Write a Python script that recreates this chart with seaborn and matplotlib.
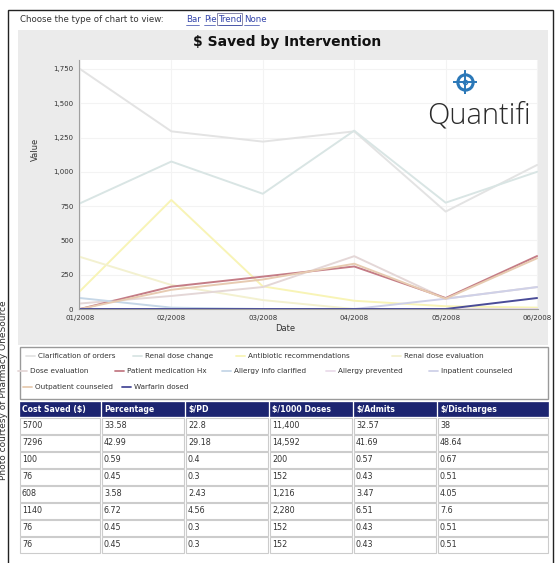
import pandas as pd
import matplotlib
matplotlib.use("Agg")
import matplotlib.pyplot as plt
import matplotlib.patches as mpatches
import seaborn as sns

W, H = 555, 563

months = ['01/2008', '02/2008', '03/2008', '04/2008', '05/2008', '06/2008']

# one list per intervention
clarification_orders = [1750, 1295, 1220, 1295, 710, 1050]
renal_dose_change = [770, 1075, 840, 1300, 775, 1000]
antibiotic_recs = [130, 795, 165, 60, 20, 10]
renal_dose_eval = [380, 175, 65, 0, 0, 0]
dose_eval = [40, 95, 160, 385, 75, 160]
patient_med_hx = [0, 163, 236, 310, 80, 386]
allergy_info = [80, 10, 0, 0, 0, 0]
allergy_prevented = [0, 0, 0, 0, 0, 0]
inpatient_counseled = [0, 0, 0, 0, 75, 160]
outpatient_counseled = [0, 140, 215, 330, 75, 370]
warfarin_dosed = [0, 0, 0, 0, 0, 80]

names = ['Clarification of orders', 'Renal dose change', 'Antibiotic recommendations',
         'Renal dose evaluation', 'Dose evaluation', 'Patient medication Hx',
         'Allergy info clarified', 'Allergy prevented', 'Inpatient counseled',
         'Outpatient counseled', 'Warfarin dosed']
values = [clarification_orders, renal_dose_change, antibiotic_recs, renal_dose_eval,
          dose_eval, patient_med_hx, allergy_info, allergy_prevented,
          inpatient_counseled, outpatient_counseled, warfarin_dosed]
colors = ['#e3e3e3', '#d9e5e4', '#f8f4b6', '#f3f1d0', '#e4d7d7', '#c47c86',
          '#c6d7e7', '#eadcea', '#cfd1e8', '#e7cbb1', '#4a4c98']

# table columns
headers = ['Cost Saved ($)', 'Percentage', '$/PD', '$/1000 Doses', '$/Admits', '$/Discharges']
cost_saved = ['5700', '7296', '100', '76', '608', '1140', '76', '76']
percentage = ['33.58', '42.99', '0.59', '0.45', '3.58', '6.72', '0.45', '0.45']
per_pd = ['22.8', '29.18', '0.4', '0.3', '2.43', '4.56', '0.3', '0.3']
per_1000 = ['11,400', '14,592', '200', '152', '1,216', '2,280', '152', '152']
per_admit = ['32.57', '41.69', '0.57', '0.43', '3.47', '6.51', '0.43', '0.43']
per_discharge = ['38', '48.64', '0.67', '0.51', '4.05', '7.6', '0.51', '0.51']
table_cols = [cost_saved, percentage, per_pd, per_1000, per_admit, per_discharge]

rows = []
for name, vals in zip(names, values):
    for m, v in zip(months, vals):
        rows.append({'Date': m, 'Value': v, 'Intervention': name})
df = pd.DataFrame(rows)

sns.set_style('white')
plt.rcParams['font.family'] = ['DejaVu Sans']

fig = plt.figure(figsize=(W / 100, H / 100), dpi=100)

# background canvas in pixel coords
bg = fig.add_axes([0, 0, 1, 1], zorder=0)
bg.set_xlim(0, W)
bg.set_ylim(H, 0)
bg.axis('off')
bg.add_patch(mpatches.Rectangle((8, 10), 545, 565, fc='white', ec='#222222', lw=1))
bg.add_patch(mpatches.Rectangle((18, 30), 530, 315, fc='#ebebeb', ec='none'))

bg.text(20, 20, 'Choose the type of chart to view:', fontsize=6.2, color='#333333', va='center')
link_x = [186, 204, 219, 244]
link_w = [13, 11, 22, 15]
for lx, lw_, word in zip(link_x, link_w, ['Bar', 'Pie', 'Trend', 'None']):
    bg.text(lx, 20, word, fontsize=6.2, color='#3344aa', va='center')
    bg.plot([lx, lx + lw_], [24.5, 24.5], color='#3344aa', lw=0.5)
bg.add_patch(mpatches.Rectangle((217, 13), 25, 12, fc='none', ec='#8888aa', lw=0.7))

bg.text(287, 42, '$ Saved by Intervention', fontsize=10, fontweight='bold',
        ha='center', va='center', color='#111111')

bg.text(3.5, 300, 'Photo courtesy of Pharmacy OneSource', rotation=90, fontsize=6.5,
        ha='center', va='top', color='#333333')

# main chart
ax = fig.add_axes([79 / W, 1 - 309 / H, (538 - 79) / W, (309 - 60) / H], zorder=1)
ax.set_facecolor('white')
sns.lineplot(data=df, x='Date', y='Value', hue='Intervention', hue_order=names,
             palette=dict(zip(names, colors)), ax=ax, legend=False, linewidth=1.4)
ax.set_xlim(-0.01, 5.01)
ax.set_ylim(0, 1815)
ax.set_yticks(range(0, 1751, 250))
ax.set_yticklabels([f'{v:,}' for v in range(0, 1751, 250)])
ax.tick_params(axis='both', labelsize=5, colors='#777777', length=2, pad=2)
ax.tick_params(axis='x', labelcolor='#333333')
ax.tick_params(axis='y', labelcolor='#333333')
ax.grid(True, color='#f3f3f3', lw=0.8)
for s in ['top', 'right']:
    ax.spines[s].set_visible(False)
for s in ['left', 'bottom']:
    ax.spines[s].set_color('#a0a0a0')
    ax.spines[s].set_linewidth(0.8)
ax.set_xlabel('Date', fontsize=6, color='#333333')
ax.set_ylabel('Value', fontsize=6, color='#333333')
ax.xaxis.set_label_coords(0.449, -0.06)
ax.yaxis.set_label_coords(-0.085, 0.64)

# logo
ax.text(0.985, 0.745, 'Quantifi', transform=ax.transAxes, fontsize=21,
        family=['Open Sans', 'DejaVu Sans'], fontweight='light',
        color='#2a2a2a', ha='right', va='baseline')
ax.plot([0.841], [0.91], transform=ax.transAxes, marker='o', ms=11, mfc='none',
        mec='#2b78b8', mew=2.2, clip_on=False)
ax.plot([0.841], [0.91], transform=ax.transAxes, marker='o', ms=3, mfc='none',
        mec='#2b78b8', mew=1, clip_on=False)
ax.plot([0.841], [0.91], transform=ax.transAxes, marker='+', ms=17, mec='#2b78b8',
        mew=1.4, clip_on=False, zorder=0)

# legend box
bg.add_patch(mpatches.Rectangle((20, 347), 528, 52, fc='white', ec='#9a9a9a', lw=1))
legend_pos = [(26, 356), (133, 356), (236, 356), (392, 356),
              (18, 371), (115, 371), (222, 371), (326, 371), (429, 371),
              (23, 387), (122, 387)]
for (lx, ly), name, c in zip(legend_pos, names, colors):
    bg.plot([lx, lx + 9], [ly, ly], color=c, lw=1.3)
    bg.text(lx + 12, ly, name, fontsize=5.2, va='center', color='#333333')

# data table
col_x = [20, 102, 186, 270, 354, 438]
col_w = [80, 82, 82, 82, 82, 110]
for cx, cw, head in zip(col_x, col_w, headers):
    bg.add_patch(mpatches.Rectangle((cx, 402), cw, 14, fc='#1c2470', ec='#1c2470', lw=0.5))
    bg.text(cx + 2, 409.5, head, fontsize=5.6, fontweight='bold', color='white', va='center')
row_h = 17.0
for ci, (cx, cw, col) in enumerate(zip(col_x, col_w, table_cols)):
    for ri, val in enumerate(col):
        top = 418 + ri * row_h
        bg.add_patch(mpatches.Rectangle((cx, top), cw, row_h - 1.5, fc='white',
                                        ec='#cccccc', lw=0.8))
        bg.text(cx + 2, top + (row_h - 1.5) / 2, val, fontsize=5.8, color='#333333',
                va='center')

fig.savefig('out.png', dpi=100)
